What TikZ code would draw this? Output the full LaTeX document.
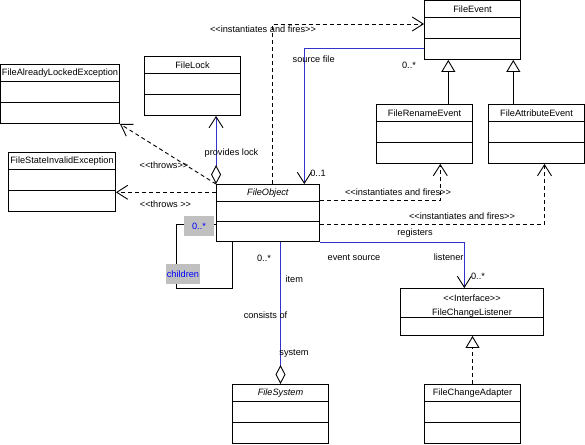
\documentclass[tikz,border=0pt]{standalone}
\usepackage{fontspec}
\setmainfont{Liberation Sans}
\usepackage{tikz}
\usetikzlibrary{arrows.meta}

\definecolor{assoc}{RGB}{51,51,204}
\definecolor{notegrey}{RGB}{192,192,192}
\definecolor{noteblue}{RGB}{0,0,255}
\newcommand{\stereo}[1]{<{}<#1>{}>}

\begin{document}
\begin{tikzpicture}[x=1pt, y=-1pt, line width=0.9pt,
	  every node/.style={font=\fontsize{9.2}{11}\selectfont},
	  umlclass/.style={draw, inner sep=0pt, minimum width=96pt, minimum height=59pt,
	    label={[anchor=center, yshift=-9pt]north:{#1}}},
	  dep/.style={dash pattern=on 4pt off 3pt},
	  link/.style={draw=assoc},
	  openbarb/.style={-{Straight Barb[length=11pt,width=14pt,color=black]}},
	  generalization/.style={-{Triangle[open,length=12pt,width=14pt]}},
	  aggregation/.style={-{Diamond[open,length=19pt,width=10pt,color=black]}},
	  note/.style={fill=notegrey, text=noteblue, inner sep=0pt, minimum height=20pt}]

	\useasboundingbox (0,0) rectangle (585,444);

	\node[umlclass=FileEvent] (fileevent) at (472.5,30) {};
	\node[umlclass=FileRenameEvent] (renameevent) at (424.5,134) {};
	\node[umlclass=FileAttributeEvent] (attribevent) at (536.5,134) {};
	\node[umlclass=FileLock] (filelock) at (192.5,86) {};
	\node[umlclass=FileAlreadyLockedException, minimum width=119pt] (lockedexc) at (60,94) {};
	\node[umlclass=FileStateInvalidException, minimum width=107pt] (invalidexc) at (62,182) {};
	\node[umlclass=\textit{FileObject}, minimum width=103pt, minimum height=57pt] (fileobject) at (268,213) {};
	\node[umlclass=\textit{FileSystem}] (filesystem) at (280.5,414) {};
	\node[umlclass=FileChangeAdapter] (adapter) at (472.5,414) {};
	\node[draw, inner sep=0pt, minimum width=143pt, minimum height=47pt,
	  label={[anchor=center, align=center, yshift=-18pt]north:{\stereo{Interface}\\[2.4pt]FileChangeListener}}]
	  (listener) at (472,312) {};

	\foreach \cls in {fileevent,renameevent,attribevent,filelock,lockedexc,invalidexc,filesystem,adapter}
	  \draw ([yshift=-17pt]\cls.north west) -- ([yshift=-17pt]\cls.north east)
	    ([yshift=-38pt]\cls.north west) -- ([yshift=-38pt]\cls.north east);
	\draw ([yshift=-17pt]fileobject.north west) -- ([yshift=-17pt]fileobject.north east)
	  ([yshift=-37pt]fileobject.north west) -- ([yshift=-37pt]fileobject.north east);
	\draw ([yshift=-29pt]listener.north west) -- ([yshift=-29pt]listener.north east);

	\draw[dep, openbarb] (fileobject.north -| 272.7,0) |- (fileevent.west |- 0,24);
	\node (firesevent) at (263,29.5) {\stereo{instantiates and fires}};

	\draw[link, openbarb] (fileevent.west |- 0,48.3) -| (fileobject.north -| 304.3,0);
	\node (sourcefile) at (313.7,59) {source file};
	\node (multevents) at (409,65.7) {0..*};
	\node (multsource) at (318,173) {0..1};

	\draw[generalization] (renameevent.north -| 448.3,0) -- (fileevent.south -| 448.3,0);
	\draw[generalization] (attribevent.north -| 513.3,0) -- (fileevent.south -| 513.3,0);

	\draw[dep, openbarb] (fileobject.east |- 0,200.3) -| (renameevent.south -| 440.3,0);
	\node (firesrename) at (398,192.7) {\stereo{instantiates and fires}};
	\draw[dep, openbarb] (fileobject.east |- 0,224) -| (attribevent.south -| 544.5,0);
	\node (firesattrib) at (462,216) {\stereo{instantiates and fires}};

	\draw[link, openbarb] (fileobject.south east) -| (listener.north -| 464.3,0);
	\node (registers) at (415,232.7) {registers};
	\node (listenerrole) at (448.7,257) {listener};
	\node (multlistener) at (478,276.7) {0..*};
	\node (eventsource) at (354,258) {event source};

	\draw[dep, generalization] (adapter.north) -- (adapter.north |- listener.south);

	\draw[link, aggregation] (filesystem.north |- fileobject.south) -- (filesystem.north);
	\node (multitems) at (264,258.7) {0..*};
	\node (item) at (294.3,279) {item};
	\node (consistsof) at (265.5,315.7) {consists of};
	\node (system) at (294,353) {system};

	\draw[link, {Diamond[open,length=19pt,width=10pt,color=black]}-{Straight Barb[length=11pt,width=14pt,color=black]}]
	  (fileobject.north west) -- (fileobject.north west |- filelock.south);
	\node (provideslock) at (231.5,152.7) {provides lock};

	\draw[dep, openbarb] (fileobject.north west) -- (lockedexc.south east);
	\node (throwslocked) at (164,165.7) {\stereo{throws}};
	\draw[dep, openbarb] (fileobject.west |- 0,192.3) -- (invalidexc.east |- 0,192.3);
	\node (throwsinvalid) at (165.5,204.3) {\stereo{throws }};

	\coordinate (loopcorner) at (176,288);
	\draw (fileobject.west |- 0,224.3) -| (loopcorner) -| (fileobject.south -| 232.3,0);
	\node[note, minimum width=30pt] (multchildren) at (199,226) {0..*};
	\node[note, minimum width=34pt] (children) at (183,274) {children};
\end{tikzpicture}
\end{document}
